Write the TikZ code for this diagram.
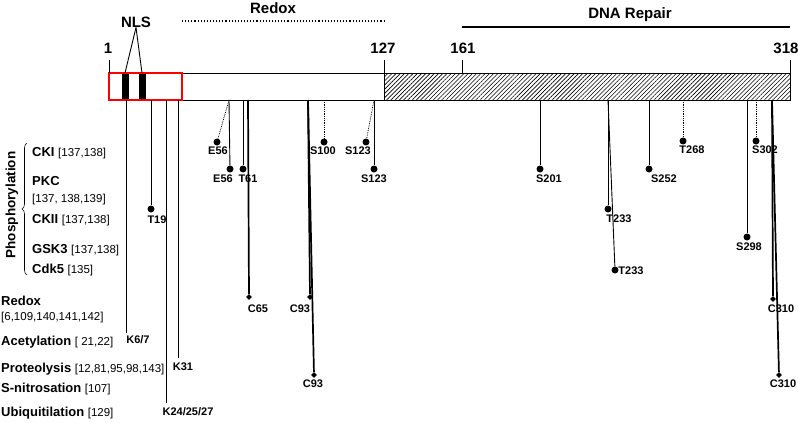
\documentclass[tikz,border=0pt]{standalone}
\usepackage{fontspec}
\setmainfont{Liberation Sans}
\usetikzlibrary{shapes.geometric,patterns.meta,decorations.pathreplacing}
\newcommand{\refnums}[1]{{\fontsize{11.5}{13}\selectfont\mdseries #1}}

\begin{document}
\begin{tikzpicture}[x=1pt,y=-1pt,
    toplbl/.style={font=\fontsize{15}{17}\selectfont\bfseries, inner sep=0pt},
    site/.style={font=\fontsize{11}{12}\selectfont\bfseries, inner sep=0pt},
    modlbl/.style={anchor=base west, font=\fontsize{13}{15}\selectfont\bfseries, inner sep=0pt},
    pdot/.style={circle, fill=black, inner sep=0pt, minimum size=7pt},
    cdia/.style={diamond, fill=black, inner sep=0pt, minimum size=6pt},
    stem/.style={line width=0.9pt},
    cstem/.style={line width=1.7pt},
    dstem/.style={densely dotted, line width=0.8pt}]
      \useasboundingbox (0,0) rectangle (798,423);
      % Domains above the sequence
      \node[toplbl] (redox) at (273,8) {Redox};
      \coordinate (rdxa) at (182,21);
      \coordinate (rdxb) at (385,21);
      \draw[dotted, line width=1.1pt] (rdxa) -- (rdxb);
      \node[toplbl] (dnarep) at (630,15) {DNA Repair};
      \coordinate (dnaa) at (462,27);
      \coordinate (dnab) at (790,27);
      \draw[line width=1.1pt] (dnaa) -- (dnab);
      % Sequence bar
      \fill[pattern={Lines[angle=45,distance=3pt,line width=0.6pt]}] (384,73) rectangle (790,100);
      \draw[line width=0.9pt] (109,73) rectangle (790,100);
      \draw[line width=0.9pt] (384,73) -- (384,100);
      \fill (122,73) rectangle (129,100);
      \fill (139,73) rectangle (146,100);
      \draw[red, line width=2pt] (109,73) rectangle (182,100);
      % NLS
      \node[toplbl] (nls) at (136,22) {NLS};
      \coordinate (nlsa) at (125,73);
      \coordinate (nlsb) at (142,73);
      \draw[stem] (nls.south) -- (nlsa);
      \draw[stem] (nls.south) -- (nlsb);
      % Residue numbers
      \node[toplbl] (n1) at (108,48) {1};
      \node[toplbl] (n127) at (383,48) {127};
      \node[toplbl] (n161) at (463,48) {161};
      \node[toplbl] (n318) at (786,48) {318};
      \coordinate (k1) at (109,73);
      \coordinate (k127) at (384,73);
      \coordinate (k161) at (462,73);
      \coordinate (k318) at (790,73);
      \draw[stem] (109,60) -- (k1);
      \draw[stem] (384,60) -- (k127);
      \draw[stem] (462,60) -- (k161);
      \draw[stem] (790,60) -- (k318);
      % Modification list
      \node[rotate=90, font=\fontsize{13.5}{15}\selectfont\bfseries] (phos) at (12,205) {Phosphorylation};
      \draw[decorate, decoration={brace, amplitude=5pt}, line width=0.6pt] (27,275) -- (27,143);
      \node[modlbl] (cki) at (32,156) {CKI \refnums{[137,138]}};
      \node[modlbl] (pkc) at (32,185) {PKC};
      \node[modlbl] (pkcr) at (32,202) {\refnums{[137, 138,139]}};
      \node[modlbl] (ckii) at (32,223) {CKII \refnums{[137,138]}};
      \node[modlbl] (gsk) at (32,253) {GSK3 \refnums{[137,138]}};
      \node[modlbl] (cdk) at (32,273) {Cdk5 \refnums{[135]}};
      \node[modlbl] (rdx) at (1,305) {Redox};
      \node[modlbl] (rdxr) at (1,320) {\refnums{[6,109,140,141,142]}};
      \node[modlbl] (acet) at (1,345) {Acetylation \refnums{[ 21,22]}};
      \node[modlbl] (prot) at (1,372) {Proteolysis \refnums{[12,81,95,98,143]}};
      \node[modlbl] (snit) at (1,392) {S-nitrosation \refnums{[107]}};
      \node[modlbl] (ubiq) at (1,416) {Ubiquitilation \refnums{[129]}};
      % Lysines
      \coordinate (k6t) at (126,100);
      \coordinate (k6e) at (126,333);
      \draw[stem] (k6t) -- (k6e);
      \node[site] (k6l) at (138,340) {K6/7};
      \coordinate (k24t) at (166,100);
      \coordinate (k24e) at (166,403);
      \draw[stem] (k24t) -- (k24e);
      \node[site] (k24l) at (188,412) {K24/25/27};
      \coordinate (k31t) at (178,100);
      \coordinate (k31e) at (178,358);
      \draw[stem] (k31t) -- (k31e);
      \node[site] (k31l) at (183,367) {K31};
      % Phosphorylation sites
      \node[pdot] (t19) at (151,209) {};
      \node[site] (t19l) at (157,220) {T19};
      \node[pdot] (e56a) at (217,142) {};
      \node[site] (e56al) at (218,151) {E56};
      \node[pdot] (e56b) at (230,169) {};
      \node[site] (e56bl) at (223,179) {E56};
      \node[pdot] (t61) at (243,169) {};
      \node[site] (t61l) at (248,179) {T61};
      \node[pdot] (s100) at (324,142) {};
      \node[site] (s100l) at (323,151) {S100};
      \node[pdot] (s123a) at (366,142) {};
      \node[site] (s123al) at (358,151) {S123};
      \node[pdot] (s123b) at (374,169) {};
      \node[site] (s123bl) at (374,179) {S123};
      \node[pdot] (s201) at (540,169) {};
      \node[site] (s201l) at (549,179) {S201};
      \node[pdot] (t233a) at (608,209) {};
      \node[site] (t233al) at (619,219) {T233};
      \node[pdot] (t233b) at (615,270) {};
      \node[site] (t233bl) at (631,271) {T233};
      \node[pdot] (s252) at (649,169) {};
      \node[site] (s252l) at (664,179) {S252};
      \node[pdot] (t268) at (683,141) {};
      \node[site] (t268l) at (692,150) {T268};
      \node[pdot] (s298) at (747,237) {};
      \node[site] (s298l) at (749,247) {S298};
      \node[pdot] (s302) at (756,141) {};
      \node[site] (s302l) at (765,150) {S302};
      \coordinate (t19t) at (151,100);
      \coordinate (e56t) at (229,100);
      \coordinate (t61t) at (243,100);
      \coordinate (s100t) at (324,100);
      \coordinate (s123t) at (374,100);
      \coordinate (s201t) at (540,100);
      \coordinate (t233t) at (608,100);
      \coordinate (s252t) at (649,100);
      \coordinate (t268t) at (683,100);
      \coordinate (s298t) at (747,100);
      \coordinate (s302t) at (756,100);
      \draw[stem] (t19t) -- (t19);
      \draw[dstem] (e56t) -- (e56a);
      \draw[stem] (e56t) -- (e56b);
      \draw[stem] (t61t) -- (t61);
      \draw[dstem] (s100t) -- (s100);
      \draw[dstem] (s123t) -- (s123a);
      \draw[stem] (s123t) -- (s123b);
      \draw[stem] (s201t) -- (s201);
      \draw[stem] (t233t) -- (t233a);
      \draw[stem] (t233t) -- (t233b);
      \draw[stem] (s252t) -- (s252);
      \draw[dstem] (t268t) -- (t268);
      \draw[stem] (s298t) -- (s298);
      \draw[dstem] (s302t) -- (s302);
      % Cysteines
      \node[cdia] (c65) at (249,297) {};
      \node[site] (c65l) at (258,309) {C65};
      \node[cdia] (c93a) at (310,297) {};
      \node[site] (c93al) at (300,309) {C93};
      \node[cdia] (c93b) at (314,375) {};
      \node[site] (c93bl) at (313,384) {C93};
      \node[cdia] (c310a) at (773,299) {};
      \node[site] (c310al) at (781,309) {C310};
      \node[cdia] (c310b) at (779,375) {};
      \node[site] (c310bl) at (783,384) {C310};
      \coordinate (c65t) at (248,100);
      \coordinate (c93t) at (308,100);
      \coordinate (c310t) at (772,100);
      \draw[cstem] (c65t) -- (c65);
      \draw[cstem] (c93t) -- (c93a);
      \draw[cstem] (c93t) -- (c93b);
      \draw[cstem] (c310t) -- (c310a);
      \draw[cstem] (c310t) -- (c310b);
    \end{tikzpicture}
\end{document}
